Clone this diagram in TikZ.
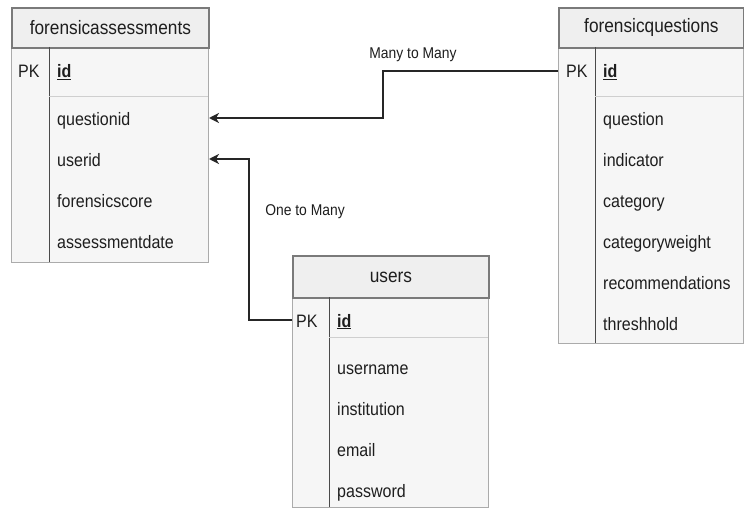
\documentclass[tikz,border=0pt]{standalone}
\usepackage{fontspec}
\setmainfont{Liberation Sans}[FakeStretch=0.89]
\usetikzlibrary{arrows.meta}

\definecolor{hdrfill}{HTML}{EFEFEF}
\definecolor{hdrline}{HTML}{7A7A7A}
\definecolor{bodyfill}{HTML}{F6F6F6}
\definecolor{bodyline}{HTML}{ABABAB}
\definecolor{colline}{HTML}{4A4A4A}
\definecolor{rowline}{HTML}{CFCFCF}
\definecolor{ink}{HTML}{1E1E1E}
\definecolor{relline}{HTML}{262626}

\tikzset{
  tblhead/.style={draw=hdrline, line width=1.8pt, fill=hdrfill, anchor=north west,
    inner sep=0pt, text=ink, font=\fontsize{19.4}{22}\selectfont},
  tblbody/.style={draw=bodyline, line width=1pt, fill=bodyfill, anchor=north west, inner sep=0pt},
  fld/.style={anchor=west, inner sep=0pt, text height=14pt, text depth=0pt, text=ink,
    font=\fontsize{18}{21}\selectfont},
  coldiv/.style={draw=colline, line width=0.9pt},
  rowdiv/.style={draw=rowline, line width=1pt},
  rel/.style={draw=relline, line width=1.5pt, -{Stealth[length=10pt,width=10pt,inset=3pt]}},
  rellabel/.style={inner sep=0pt, text=ink, font=\fontsize{15.6}{18}\selectfont}
}

\begin{document}
\begin{tikzpicture}[x=1pt,y=-1pt]
\useasboundingbox[fill=white] (0,0) rectangle (744,508);

% ---------- forensicassessments ----------
\node[tblbody, minimum width=197pt, minimum height=215pt] (fa-b) at (11,47) {};
\node[tblhead, minimum width=197pt, minimum height=40pt] (fa-h) at (11,7) {forensicassessments};
\draw[coldiv] (49,47) -- (49,262);
\draw[rowdiv] (49,97) -- (208,97);
\node[fld] (fa-pk) at (18,71) {PK};
\node[fld] (fa-id) at (57,71) {\textbf{\underline{id}}};
\node[fld] (fa-q) at (57,118) {questionid};
\node[fld] (fa-u) at (57,159) {userid};
\node[fld] (fa-s) at (57,200) {forensicscore};
\node[fld] (fa-d) at (57,241) {assessmentdate};

% ---------- forensicquestions ----------
\node[tblbody, minimum width=185pt, minimum height=296pt] (fq-b) at (558,47) {};
\node[tblhead, minimum width=185pt, minimum height=40pt] (fq-h) at (558,7) {forensicquestions};
\draw[coldiv] (595,47) -- (595,343);
\draw[rowdiv] (595,97) -- (743,97);
\node[fld] (fq-pk) at (566,71) {PK};
\node[fld] (fq-id) at (603,71) {\textbf{\underline{id}}};
\node[fld] (fq-q) at (603,118) {question};
\node[fld] (fq-i) at (603,159) {indicator};
\node[fld] (fq-c) at (603,200) {category};
\node[fld] (fq-w) at (603,241) {categoryweight};
\node[fld] (fq-r) at (603,282) {recommendations};
\node[fld] (fq-t) at (603,323) {threshhold};

% ---------- users ----------
\node[tblbody, minimum width=196pt, minimum height=210pt] (us-b) at (292,297) {};
\node[tblhead, minimum width=196pt, minimum height=42pt] (us-h) at (292,255) {users};
\draw[coldiv] (329,297) -- (329,507);
\draw[rowdiv] (329,337) -- (488,337);
\node[fld] (us-pk) at (296,320) {PK};
\node[fld] (us-id) at (337,320) {\textbf{\underline{id}}};
\node[fld] (us-n) at (337,367) {username};
\node[fld] (us-i) at (337,408) {institution};
\node[fld] (us-e) at (337,449) {email};
\node[fld] (us-p) at (337,490) {password};

% ---------- relationships ----------
\coordinate (mm-x) at (383,0);
\coordinate (om-x) at (249,0);
\draw[rel] (fq-b.west |- fq-pk) -- (mm-x |- fq-pk) -- (mm-x |- fa-q) -- (fa-b.east |- fa-q);
\draw[rel] (us-b.west |- us-pk) -- (om-x |- us-pk) -- (om-x |- fa-u) -- (fa-b.east |- fa-u);
\node[rellabel] (mm-l) at (413,55) {Many to Many};
\node[rellabel] (om-l) at (305,212) {One to Many};
\end{tikzpicture}
\end{document}
